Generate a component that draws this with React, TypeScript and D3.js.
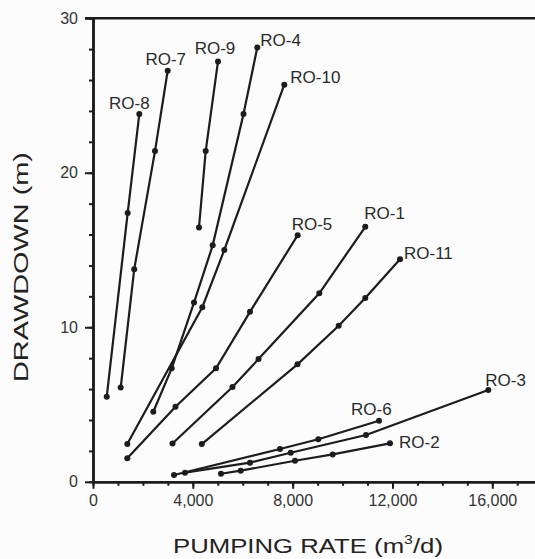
import React, { useRef, useEffect } from "react";
import * as d3 from "d3";

// pumping rate (m3/d), drawdown (m)
const ro1 = [[3186, 2.48], [5590, 6.13], [6632, 7.94], [9068, 12.2], [10911, 16.5]];
const ro2 = [[5129, 0.52], [5918, 0.72], [8094, 1.36], [9605, 1.77], [11901, 2.49]];
const ro3 = [[3686, 0.59], [6291, 1.24], [7922, 1.88], [10939, 3.03], [15840, 5.94]];
const ro4 = [[2416, 4.53], [3154, 7.34], [4047, 11.6], [4796, 15.3], [6031, 23.8], [6583, 28.1]];
const ro5 = [[1374, 1.52], [3306, 4.86], [4929, 7.34], [6291, 11.0], [8202, 15.96]];
const ro6 = [[3246, 0.44], [7493, 2.12], [9028, 2.75], [11460, 3.95]];
const ro7 = [[1110, 6.1], [1651, 13.75], [2484, 21.4], [2993, 26.6]];
const ro8 = [[550, 5.5], [1390, 17.4], [1855, 23.8]];
const ro9 = [[4247, 16.46], [4516, 21.4], [5009, 27.2]];
const ro10 = [[1374, 2.44], [4380, 11.3], [5261, 15.0], [7665, 25.7]];
const ro11 = [[4360, 2.44], [8194, 7.6], [9845, 10.1], [10911, 11.9], [12301, 14.4]];

const wellNames = ["RO-1", "RO-2", "RO-3", "RO-4", "RO-5", "RO-6", "RO-7", "RO-8", "RO-9", "RO-10", "RO-11"];
const wellData = [ro1, ro2, ro3, ro4, ro5, ro6, ro7, ro8, ro9, ro10, ro11];

const xLabelTicks = [0, 4000, 8000, 12000, 16000];
const yLabelTicks = [0, 10, 20, 30];

const W = 535;
const H = 559;

// where each name sits relative to the last point of its line
const labelPos = {
    "RO-1": [-1, -8, "start"],
    "RO-2": [9, 5, "start"],
    "RO-3": [-3, -4, "start"],
    "RO-4": [3, -2, "start"],
    "RO-5": [-6, -5, "start"],
    "RO-6": [-28, -6, "start"],
    "RO-7": [-2, -6, "middle"],
    "RO-8": [-10, -5, "middle"],
    "RO-9": [-3, -7, "middle"],
    "RO-10": [6, -2, "start"],
    "RO-11": [4, 0, "start"],
};

const App = () => {
    const ref = useRef<SVGSVGElement>(null);

    useEffect(() => {
        const svg = d3.select(ref.current);
        svg.selectAll("*").remove();

        const x = d3.scaleLinear().domain([0, 18000]).range([93, 93 + 18000 * 0.024956]);
        const y = d3.scaleLinear().domain([0, 30]).range([481.8, 18.2]);
        const ink = "#1c1c1c";
        const font = "'Liberation Sans', Arial, sans-serif";

        svg.append("rect").attr("width", W).attr("height", H).attr("fill", "#fcfcfc");

        // minor ticks
        svg.append("g")
            .attr("transform", `translate(0,${y(0)})`)
            .call(d3.axisBottom(x).tickValues(d3.range(0, 18001, 1000)).tickSize(4).tickFormat(() => "").tickSizeOuter(0));
        svg.append("g")
            .attr("transform", `translate(${x(0)},0)`)
            .call(d3.axisLeft(y).tickValues(d3.range(0, 31, 2)).tickSize(4).tickFormat(() => "").tickSizeOuter(0));

        // major ticks with labels
        const xAxis = svg.append("g")
            .attr("transform", `translate(0,${y(0)})`)
            .call(d3.axisBottom(x).tickValues(xLabelTicks).tickSize(7).tickPadding(6).tickFormat(d3.format(",")).tickSizeOuter(0));
        const yAxis = svg.append("g")
            .attr("transform", `translate(${x(0)},0)`)
            .call(d3.axisLeft(y).tickValues(yLabelTicks).tickSize(8).tickPadding(7).tickSizeOuter(0));

        svg.selectAll(".domain").attr("stroke", ink).attr("stroke-width", 2.5);
        svg.selectAll(".tick line").attr("stroke", ink).attr("stroke-width", 2);
        [xAxis, yAxis].forEach((a) =>
            a.selectAll("text").attr("font-family", font).attr("font-size", 16).attr("fill", "#333")
        );

        // top frame line
        svg.append("line")
            .attr("x1", x(0) - 8).attr("x2", W)
            .attr("y1", y(30)).attr("y2", y(30))
            .attr("stroke", ink).attr("stroke-width", 2.5);

        const line = d3.line().x((d) => x(d[0])).y((d) => y(d[1]));

        wellData.forEach((pts, i) => {
            const name = wellNames[i];
            const g = svg.append("g");
            g.append("path")
                .attr("d", line(pts))
                .attr("fill", "none")
                .attr("stroke", ink)
                .attr("stroke-width", 2.2);
            g.selectAll("circle")
                .data(pts)
                .enter()
                .append("circle")
                .attr("cx", (d) => x(d[0]))
                .attr("cy", (d) => y(d[1]))
                .attr("r", 3)
                .attr("fill", ink);
            const last = pts[pts.length - 1];
            const [dx, dy, anchor] = labelPos[name];
            g.append("text")
                .attr("x", x(last[0]) + dx)
                .attr("y", y(last[1]) + dy)
                .attr("text-anchor", anchor)
                .attr("font-family", font)
                .attr("font-size", 17)
                .attr("fill", "#2a2a2a")
                .text(name);
        });

        // axis titles
        const xt = svg.append("text")
            .attr("x", 173)
            .attr("y", 553)
            .attr("font-family", font)
            .attr("font-size", 21)
            .attr("fill", "#222")
            .attr("textLength", 270)
            .attr("lengthAdjust", "spacingAndGlyphs");
        xt.append("tspan").text("PUMPING RATE (m");
        xt.append("tspan").attr("font-size", 13).attr("dy", -9).text("3");
        xt.append("tspan").attr("dy", 9).text("/d)");

        svg.append("text")
            .attr("transform", "translate(28,267) rotate(-90)")
            .attr("text-anchor", "middle")
            .attr("font-family", font)
            .attr("font-size", 21)
            .attr("fill", "#222")
            .attr("textLength", 230)
            .attr("lengthAdjust", "spacingAndGlyphs")
            .text("DRAWDOWN (m)");
    }, []);

    return (
        <svg
            ref={ref}
            width={W}
            height={H}
            style={{ position: "absolute", left: 0, top: 0, display: "block" }}
        />
    );
};

export default App;
